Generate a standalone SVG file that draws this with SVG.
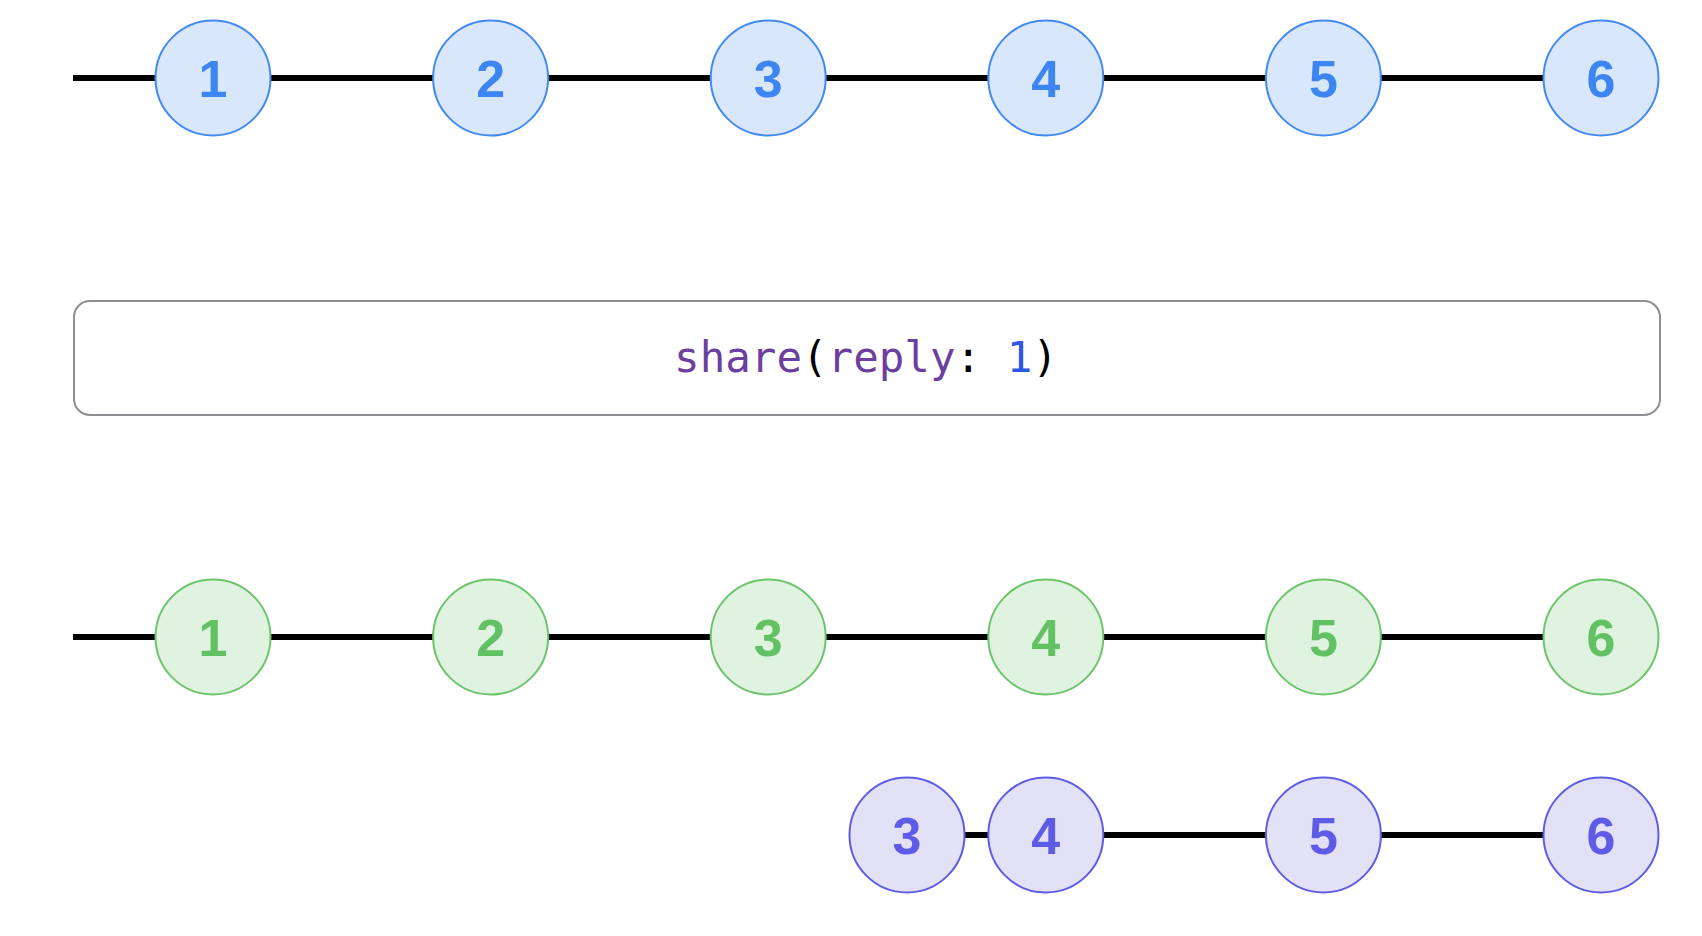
<svg xmlns="http://www.w3.org/2000/svg" width="1702" height="936" viewBox="0 0 1702 936">
<style>
.line{stroke:#000;stroke-width:6;fill:none}
.c{stroke-width:2}
.blue circle{fill:#d9e7fd;stroke:#4289f2}
.blue text{fill:#3d85f0}
.green circle{fill:#e0f3e0;stroke:#6cc46c}
.green text{fill:#62c162}
.purple circle{fill:#e2e1f6;stroke:#5e5ce6}
.purple text{fill:#5e5ce6}
.n text{font-family:"Liberation Sans",Arial,sans-serif;font-weight:bold;font-size:52px;text-anchor:middle}
.n circle{stroke-width:2}
.op{fill:#fff;stroke:#8e8e93;stroke-width:2}
.code{font-family:"DejaVu Sans Mono","Liberation Mono",monospace;font-size:42.5px;text-anchor:middle}
.kw{fill:#6b3fa0}
.num{fill:#2f55e8}
.pun{fill:#000}
</style>
<rect width="1702" height="936" fill="#fff"/>
<g id="connectors">
<line class="line" x1="73" y1="78" x2="1601" y2="78"/>
<line class="line" x1="73" y1="637" x2="1601" y2="637"/>
<line class="line" x1="907" y1="835" x2="1601" y2="835"/>
</g>
<g id="operator">
<rect class="op" x="74" y="301" width="1586" height="114" rx="16" ry="16"/>
<text class="code" x="866" y="372"><tspan class="kw">share</tspan><tspan class="pun">(</tspan><tspan class="kw">reply</tspan><tspan class="pun">: </tspan><tspan class="num">1</tspan><tspan class="pun">)</tspan></text>
</g>
<g id="top-1" class="n blue"><circle cx="213" cy="78" r="57.5"/><text x="213" y="97">1</text></g>
<g id="top-2" class="n blue"><circle cx="490.6" cy="78" r="57.5"/><text x="490.6" y="97">2</text></g>
<g id="top-3" class="n blue"><circle cx="768.2" cy="78" r="57.5"/><text x="768.2" y="97">3</text></g>
<g id="top-4" class="n blue"><circle cx="1045.8" cy="78" r="57.5"/><text x="1045.8" y="97">4</text></g>
<g id="top-5" class="n blue"><circle cx="1323.4" cy="78" r="57.5"/><text x="1323.4" y="97">5</text></g>
<g id="top-6" class="n blue"><circle cx="1601" cy="78" r="57.5"/><text x="1601" y="97">6</text></g>
<g id="mid-1" class="n green"><circle cx="213" cy="637" r="57.5"/><text x="213" y="656">1</text></g>
<g id="mid-2" class="n green"><circle cx="490.6" cy="637" r="57.5"/><text x="490.6" y="656">2</text></g>
<g id="mid-3" class="n green"><circle cx="768.2" cy="637" r="57.5"/><text x="768.2" y="656">3</text></g>
<g id="mid-4" class="n green"><circle cx="1045.8" cy="637" r="57.5"/><text x="1045.8" y="656">4</text></g>
<g id="mid-5" class="n green"><circle cx="1323.4" cy="637" r="57.5"/><text x="1323.4" y="656">5</text></g>
<g id="mid-6" class="n green"><circle cx="1601" cy="637" r="57.5"/><text x="1601" y="656">6</text></g>
<g id="bot-3" class="n purple"><circle cx="907" cy="835" r="57.5"/><text x="907" y="854">3</text></g>
<g id="bot-4" class="n purple"><circle cx="1045.8" cy="835" r="57.5"/><text x="1045.8" y="854">4</text></g>
<g id="bot-5" class="n purple"><circle cx="1323.4" cy="835" r="57.5"/><text x="1323.4" y="854">5</text></g>
<g id="bot-6" class="n purple"><circle cx="1601" cy="835" r="57.5"/><text x="1601" y="854">6</text></g>
</svg>
